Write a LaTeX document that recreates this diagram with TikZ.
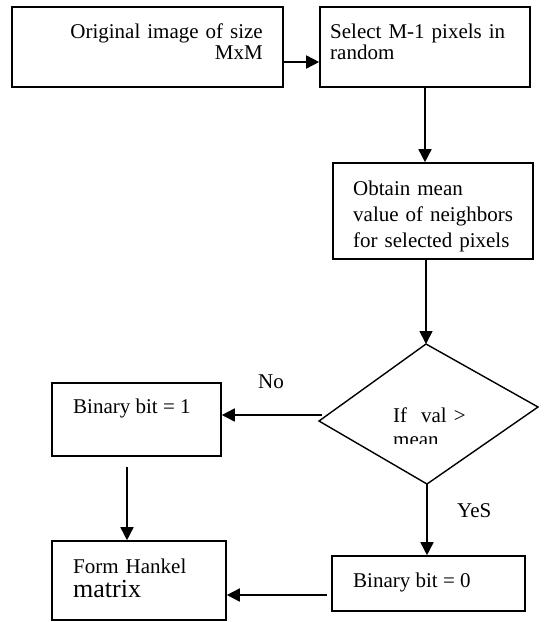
\documentclass[tikz,border=0pt]{standalone}
\usepackage{fontspec}
\setmainfont{Liberation Serif}
\usetikzlibrary{arrows.meta}

\begin{document}
\begin{tikzpicture}[x=1pt,y=-1pt,
    box/.style={draw,line width=1.6pt,inner sep=0pt},
    txt/.style={inner sep=0pt,font=\fontsize{21}{21}\selectfont},
    arr/.style={line width=1.6pt,-{Triangle[length=13pt,width=13pt]}}]
  \useasboundingbox (0,0) rectangle (544,622);

  % boxes
  \node[box,minimum width=271pt,minimum height=80pt] (orig) at (147.5,47) {};
  \node[box,minimum width=210pt,minimum height=80pt] (sel) at (425,47) {};
  \node[box,minimum width=200pt,minimum height=96pt] (mean) at (433,211) {};
  \node[box,minimum width=169pt,minimum height=73pt] (bin1) at (136.5,419.5) {};
  \node[box,minimum width=174pt,minimum height=79pt] (hank) at (139,580.5) {};
  \node[box,minimum width=193pt,minimum height=55pt] (bin0) at (428.5,583.5) {};

  % decision
  \coordinate (dtop) at (426,344);
  \coordinate (dright) at (538,407);
  \coordinate (dbot) at (427,484);
  \coordinate (dleft) at (319,421);
  \draw[line width=1.4pt] (dtop) -- (dright) -- (dbot) -- (dleft) -- cycle;

  % texts
  \node[txt,anchor=base east,text width=220pt,align=right] (origtxt) at (263,38) {Original image of size\\MxM};
  \node[txt,anchor=base west,text width=190pt,align=left] (seltxt) at (330,38) {Select M-1 pixels in\\random};
  \node[txt,anchor=base west,text width=170pt,align=left,font=\fontsize{21}{26}\selectfont] (meantxt) at (353,195) {Obtain mean\\value of neighbors\\for selected pixels};
  \node[txt,anchor=base west] (bin1txt) at (73,413) {Binary bit = 1};
  \node[txt,anchor=base west,text width=160pt,align=left] (hanktxt) at (73,573) {Form Hankel\\[3pt]{\fontsize{26}{26}\selectfont matrix}};
  \node[txt,anchor=base west] (bin0txt) at (353,587) {Binary bit = 0};
  \begin{scope}
    \clip (380,400) rectangle (500,443);
    \node[txt,anchor=base west,text width=100pt,align=left,font=\fontsize{21}{24}\selectfont] (iftxt) at (393,422) {If\ \ val >\\mean};
  \end{scope}
  \node[txt,anchor=base west] (nolbl) at (258,388) {No};
  \node[txt,anchor=base west] (yeslbl) at (457,517) {YeS};

  % arrows
  \coordinate (a1) at (283,62);
  \draw[arr] (a1) -- (a1 -| sel.west);
  \draw[arr] (sel.south) -- (sel.south |- mean.north);
  \draw[arr] (mean.south -| dtop) -- (dtop);
  \coordinate (nostart) at (322,415);
  \draw[arr] (nostart) -- (nostart -| bin1.east);
  \coordinate (b1) at (127,467);
  \draw[arr] (b1) -- (b1 |- hank.north);
  \draw[arr] (dbot) -- (dbot |- bin0.north);
  \coordinate (b0) at (327,595);
  \draw[arr] (b0) -- (b0 -| hank.east);
\end{tikzpicture}
\end{document}
